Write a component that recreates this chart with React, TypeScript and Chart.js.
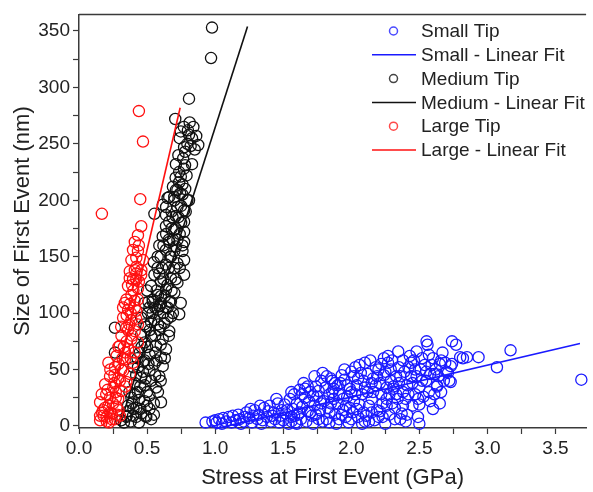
import React, { useEffect, useRef } from "react";
import { Chart, registerables } from "chart.js";
Chart.register(...registerables);

// ---------- data ----------
const xTickValues = [0.0, 0.5, 1.0, 1.5, 2.0, 2.5, 3.0, 3.5];
const yTickValues = [0, 50, 100, 150, 200, 250, 300, 350];

const seriesNames = ["Small Tip", "Small - Linear Fit", "Medium Tip", "Medium - Linear Fit", "Large Tip", "Large - Linear Fit"];

const smallTip: number[][] = [
  [0.93,3],[0.98,4],[1.01,3],[1.03,6],[1.05,2],[1.08,4],[1.1,8],[1.12,3],[1.15,5],[1.17,10],[1.19,2],[1.0,5],[1.06,7],[1.13,9],
  [1.21,4],[1.23,12],[1.25,7],[1.27,3],[1.29,14],[1.31,6],[1.32,10],[1.34,2],[1.36,16],[1.38,8],[1.4,18],[1.41,4],[1.43,12],[1.44,6],[1.46,20],[1.47,3],[1.49,14],[1.28,9],[1.35,5],[1.42,9],[1.22,8],[1.48,9],[1.39,13],
  [1.5,5],[1.51,19],[1.52,11],[1.54,2],[1.55,24],[1.56,8],[1.57,15],[1.58,28],[1.59,3],[1.6,20],[1.61,10],[1.62,32],[1.63,6],[1.64,17],[1.65,38],[1.66,25],[1.67,4],[1.68,13],[1.69,22],[1.7,30],[1.71,9],[1.72,2],[1.73,18],[1.74,35],[1.75,26],[1.76,6],[1.77,14],[1.78,40],[1.79,47],[1.8,22],[1.53,14],[1.6,2],[1.66,33],[1.72,27],[1.58,9],[1.64,28],[1.7,12],[1.76,31],[1.79,4],
  [1.81,34],[1.82,6],[1.83,16],[1.84,28],[1.85,42],[1.86,30],[1.87,24],[1.87,33],[1.88,10],[1.89,2],[1.9,20],[1.91,6],[1.92,38],[1.93,45],[1.94,14],[1.95,41],[1.96,18],[1.97,26],[1.98,3],[1.99,33],[2.0,48],[2.01,12],[2.02,22],[2.03,52],[2.04,36],[2.05,8],[2.06,19],[2.07,47],[2.08,28],[2.09,40],[2.1,56],[2.1,4],[1.84,12],[1.9,36],[1.96,8],[2.0,30],[2.04,15],[2.08,2],[1.86,40],[1.94,24],[2.02,44],
  [2.11,9],[2.12,30],[2.13,18],[2.14,58],[2.15,24],[2.16,42],[2.17,5],[2.18,36],[2.19,14],[2.2,50],[2.21,13],[2.22,28],[2.22,55],[2.23,20],[2.24,45],[2.25,2],[2.26,34],[2.27,62],[2.27,56],[2.28,10],[2.29,40],[2.3,58],[2.31,33],[2.31,35],[2.32,16],[2.33,44],[2.34,24],[2.345,66],[2.35,52],[2.36,6],[2.37,11],[2.38,30],[2.39,48],[2.4,24],[2.15,38],[2.2,8],[2.25,48],[2.3,20],[2.35,38],[2.18,52],[2.28,28],
  [2.41,36],[2.42,52],[2.43,62],[2.44,56],[2.45,18],[2.46,58],[2.47,28],[2.48,44],[2.49,8],[2.5,19],[2.5,34],[2.51,50],[2.53,26],[2.553,75],[2.56,72],[2.57,63],[2.59,54],[2.61,28],[2.61,46],[2.63,35],[2.63,36],[2.65,55],[2.66,58],[2.67,65],[2.55,40],[2.6,15],[2.44,44],[2.52,60],[2.58,46],[2.68,40],
  [2.71,47],[2.72,40],[2.73,53],[2.73,39],[2.74,75],[2.74,55],[2.77,72],[2.8,61],[2.82,60],[2.85,61],[2.935,61],[3.07,52],[3.17,67],[3.69,41],
  [1.62,12],[1.68,35],[1.74,10],[1.78,20],[1.82,44],[1.85,20],[1.88,38],[1.91,28],[1.93,10],[1.97,36],[1.99,16],[2.03,28],[2.05,42],[2.06,54],[2.09,12],[2.12,46],[2.13,4],[2.16,30],[2.19,44],[2.21,38],[2.23,8],[2.26,18],[2.29,50],[2.32,6],[2.33,28],[2.36,44],[2.38,18],[2.41,10],[2.42,28],[2.45,38],[2.47,50],[2.49,24],[2.52,40],[2.54,54],[2.57,30],[2.6,60],[2.62,50],[2.64,44],[2.66,30],[2.69,56],[2.7,48],[2.55,48],[2.48,66],[2.38,58],[2.24,60],[2.1,34],[1.95,50],[1.73,44],[1.56,30],[1.45,24],[1.33,18],[1.26,15],[1.18,6],[1.56,4],[1.84,3],[2.0,6],[2.15,12],[2.26,24],[2.4,4],[2.58,22],[2.5,2],[2.65,20]
];

const mediumTip: number[][] = [
  [0.977,353],[0.97,326],[0.808,290],[0.707,272],[0.813,269],[0.748,261],[0.808,258],[0.861,257],[0.796,250],[0.772,247],[0.876,249],[0.82,248],[0.712,232],[0.765,237],[0.779,231],[0.736,225],[0.748,221],[0.712,209],[0.663,203],[0.743,206],[0.70,200],[0.796,200],[0.772,191],[0.64,194],[0.554,188],[0.687,185],
  [0.736,216],[0.723,209],[0.76,205],[0.70,203],[0.651,202],[0.808,200],[0.615,196],[0.723,194],[0.784,190],[0.639,187],[0.711,186],[0.663,181],[0.772,181],[0.639,177],[0.70,174],[0.772,172],[0.615,168],[0.723,165],[0.663,163],[0.772,163],[0.59,160],[0.711,159],[0.639,156],[0.76,155],[0.675,150],[0.578,150],[0.772,147],[0.723,144],[0.639,143],[0.578,140],[0.70,140],[0.772,134],[0.554,134],[0.675,131],[0.602,128],[0.723,127],[0.53,124],[0.639,121],[0.70,118],[0.602,115],[0.542,112],[0.675,110],[0.747,109],[0.59,106],[0.651,105],[0.518,105],
  [0.736,99],[0.482,109],[0.542,110],[0.602,109],[0.663,110],[0.639,105],[0.578,103],[0.506,100],[0.675,97],[0.457,96],[0.554,94],[0.627,91],[0.494,88],[0.59,85],[0.663,84],[0.457,81],[0.53,80],[0.615,77],[0.482,74],[0.566,71],[0.639,68],[0.446,65],[0.518,63],[0.602,61],[0.482,58],[0.554,55],[0.615,53],[0.433,52],[0.518,49],[0.59,44],[0.457,43],[0.53,40],[0.409,38],[0.482,36],[0.566,34],[0.433,30],[0.518,27],[0.385,25],[0.482,22],[0.602,21],[0.421,16],[0.518,15],[0.36,13],[0.457,11],[0.397,9],[0.494,8],[0.348,8],[0.264,87],[0.264,65],[0.35,9],[0.42,8],[0.49,9],
  [0.33,3],[0.38,4],[0.44,3],[0.53,6],[0.55,20],[0.50,30],[0.47,48],[0.56,65],[0.6,72],[0.5,70],[0.58,90],[0.62,100],[0.54,100],[0.52,85],[0.47,57],[0.42,45],[0.39,20],[0.44,23],[0.58,30],[0.56,45],[0.65,95],[0.68,120],[0.62,130],[0.66,140],[0.7,155],[0.74,170],[0.68,175],[0.73,185],[0.66,165],[0.6,150],[0.62,160],[0.57,120],[0.56,80],[0.45,35],[0.37,30],[0.4,52],[0.51,110],[0.69,100],[0.71,130],[0.74,140],[0.78,210],[0.75,195],[0.73,240],[0.8,262],[0.84,265],[0.85,245],[0.83,232],[0.79,222],[0.76,214],
  [0.36,18],[0.41,28],[0.45,15],[0.5,18],[0.55,10],[0.43,60],[0.49,42],[0.51,55],[0.46,70],[0.53,92],[0.57,58],[0.6,88],[0.63,115],[0.59,135],[0.65,125],[0.67,150],[0.69,165],[0.64,170],[0.71,175],[0.75,180],[0.76,160],[0.68,190],[0.71,220],[0.77,228],[0.74,255],[0.78,243],[0.83,255],[0.77,265],[0.69,212],[0.56,105],[0.61,140],[0.48,90],[0.4,15],[0.31,5],[0.6,40],[0.63,60],[0.66,80],[0.58,116],[0.5,120],[0.55,145]
];

const largeTip: number[][] = [
  [0.44,279],[0.47,252],[0.45,201],[0.168,188],
  [0.457,177],[0.433,169],[0.41,163],[0.433,155],[0.421,149],[0.47,147],[0.41,138],[0.457,134],[0.373,131],[0.421,130],[0.36,124],[0.433,122],[0.385,116],[0.348,112],[0.433,112],[0.373,108],[0.324,105],
  [0.397,156],[0.385,147],[0.422,141],[0.373,137],[0.397,130],[0.458,138],
  [0.337,109],[0.409,111],[0.361,103],[0.421,102],[0.324,96],[0.385,94],[0.433,90],[0.348,87],[0.409,84],[0.312,80],[0.385,77],[0.433,74],[0.30,71],[0.361,68],[0.409,65],[0.276,62],[0.337,59],[0.397,56],[0.216,56],[0.264,52],[0.324,49],[0.373,46],[0.228,44],[0.288,42],[0.348,39],[0.192,37],[0.252,34],[0.312,31],[0.167,28],[0.228,25],[0.288,24],[0.155,21],[0.216,18],[0.276,17],[0.179,14],[0.24,11],[0.155,9],[0.203,8],[0.30,9],[0.264,6],[0.155,5],[0.204,4],[0.24,6],[0.18,9],
  [0.25,20],[0.32,60],[0.35,75],[0.3,40],[0.27,30],[0.22,3],[0.28,10],[0.38,100],[0.4,120],[0.36,85],[0.31,50],[0.2,28],[0.26,45],[0.34,65],[0.39,80],[0.42,95],[0.23,12],[0.29,70],[0.44,128],[0.41,105],
  [0.19,16],[0.21,32],[0.26,38],[0.29,55],[0.33,70],[0.37,90],[0.35,98],[0.31,88],[0.27,25],[0.23,50],[0.17,12],[0.39,125],[0.42,135],[0.44,160],[0.29,14],[0.34,35],[0.38,60]
];

const smallFitX = [1.0, 3.68];
const smallFitY = [-2.6, 73];
const mediumFitX = [0.297, 1.238];
const mediumFitY = [0, 354];
const largeFitX = [0.199, 0.743];
const largeFitY = [0, 282];

// ---------- styles ----------
const BLUE = "#1a1aff";
const BLACK = "#111111";
const RED = "#ff1010";
const FONT = "'Liberation Sans', Arial, sans-serif";
const TEXT = "#222222";
const AXIS = "#3a3a3a";

const toPts = (arr: number[][]) => arr.map(([x, y]) => ({ x, y }));
const toLine = (xs: number[], ys: number[]) => xs.map((x, i) => ({ x, y: ys[i] }));

const legendPlugin = {
  id: "customLegend",
  afterDraw(chart: any) {
    const ctx = chart.ctx;
    const colors = [BLUE, BLUE, BLACK, BLACK, RED, RED];
    const markerColors = ["#4a4aff", BLUE, "#444444", "#333333", "#ff4a4a", RED];
    ctx.save();
    ctx.font = `19px ${FONT}`;
    ctx.textBaseline = "middle";
    ctx.textAlign = "left";
    seriesNames.forEach((name, i) => {
      const y = 31 + i * 23.8;
      if (i % 2 === 0) {
        ctx.beginPath();
        ctx.arc(393.5, y, 4, 0, Math.PI * 2);
        ctx.strokeStyle = markerColors[i];
        ctx.lineWidth = 1.5;
        ctx.stroke();
      } else {
        ctx.beginPath();
        ctx.moveTo(372, y);
        ctx.lineTo(416, y);
        ctx.strokeStyle = colors[i];
        ctx.lineWidth = 1.5;
        ctx.stroke();
      }
      ctx.fillStyle = TEXT;
      ctx.fillText(name, 421, y + 1);
    });
    const a = chart.chartArea;
    ctx.beginPath();
    ctx.moveTo(a.left, a.top);
    ctx.lineTo(a.right, a.top);
    ctx.strokeStyle = AXIS;
    ctx.lineWidth = 1.5;
    ctx.stroke();
    ctx.restore();
  },
};

export default function App() {
  const ref = useRef<HTMLCanvasElement | null>(null);
  useEffect(() => {
    if (!ref.current) return;
    const scatterStyle = (c: string) => ({
      pointRadius: 5.6,
      pointHoverRadius: 5.6,
      pointBorderWidth: 1.3,
      pointBorderColor: c,
      pointBackgroundColor: "rgba(255,255,255,0)",
      borderColor: c,
      showLine: false,
      clip: false as any,
    });
    const lineStyle = (c: string) => ({
      showLine: true,
      pointRadius: 0,
      borderColor: c,
      borderWidth: 1.6,
      fill: false,
      clip: false as any,
    });
    const chart = new Chart(ref.current, {
      type: "scatter",
      data: {
        datasets: [
          { label: seriesNames[0], data: toPts(smallTip), order: 5, ...scatterStyle(BLUE) },
          { label: seriesNames[1], data: toLine(smallFitX, smallFitY), order: 4, ...lineStyle(BLUE) },
          { label: seriesNames[2], data: toPts(mediumTip), order: 3, ...scatterStyle(BLACK) },
          { label: seriesNames[3], data: toLine(mediumFitX, mediumFitY), order: 2, ...lineStyle(BLACK) },
          { label: seriesNames[4], data: toPts(largeTip), order: 1, ...scatterStyle(RED) },
          { label: seriesNames[5], data: toLine(largeFitX, largeFitY), order: 0, ...lineStyle(RED) },
        ] as any,
      },
      options: {
        animation: false,
        responsive: false,
        maintainAspectRatio: false,
        events: [],
        layout: { padding: { top: 13, right: 0, left: 0, bottom: 0 } },
        plugins: { legend: { display: false }, tooltip: { enabled: false } },
        scales: {
          x: {
            type: "linear",
            min: 0,
            max: 3.725,
            afterFit: (s: any) => { s.height = 64; },
            border: { display: true, color: AXIS, width: 1.5 },
            grid: { display: true, drawOnChartArea: false, drawTicks: true, tickLength: 6, tickColor: AXIS, tickWidth: 1.2 },
            ticks: {
              stepSize: 0.25,
              includeBounds: false,
              autoSkip: false,
              maxRotation: 0,
              padding: 3,
              color: TEXT,
              font: { family: FONT, size: 19 },
              callback: (v: any) => {
                const n = Number(v);
                return xTickValues.some((t) => Math.abs(t - n) < 1e-6) ? n.toFixed(1) : "";
              },
            },
            title: { display: true, text: "Stress at First Event (GPa)", color: TEXT, font: { family: FONT, size: 22 }, padding: { top: 0, bottom: 1 } },
          },
          y: {
            type: "linear",
            min: -1.8,
            max: 364.7,
            afterFit: (s: any) => { s.width = 79; },
            border: { display: true, color: AXIS, width: 1.5 },
            grid: { display: true, drawOnChartArea: false, drawTicks: true, tickLength: 6, tickColor: AXIS, tickWidth: 1.2 },
            ticks: {
              stepSize: 25,
              includeBounds: false,
              autoSkip: false,
              padding: 3,
              color: TEXT,
              font: { family: FONT, size: 19 },
              callback: (v: any) => {
                const n = Number(v);
                return yTickValues.includes(Math.round(n)) && Math.abs(n - Math.round(n)) < 1e-6 ? String(Math.round(n)) : "";
              },
            },
            title: { display: true, text: "Size of First Event (nm)", color: TEXT, font: { family: FONT, size: 22 }, padding: { top: 10, bottom: 0 } },
          },
        },
      } as any,
      plugins: [legendPlugin],
    });
    return () => chart.destroy();
  }, []);
  return (
    <div style={{ position: "absolute", left: 0, top: 0, width: 593, height: 492, background: "#fff" }}>
      <canvas ref={ref} width={593} height={492} style={{ display: "block", width: 593, height: 492 }} />
    </div>
  );
}
